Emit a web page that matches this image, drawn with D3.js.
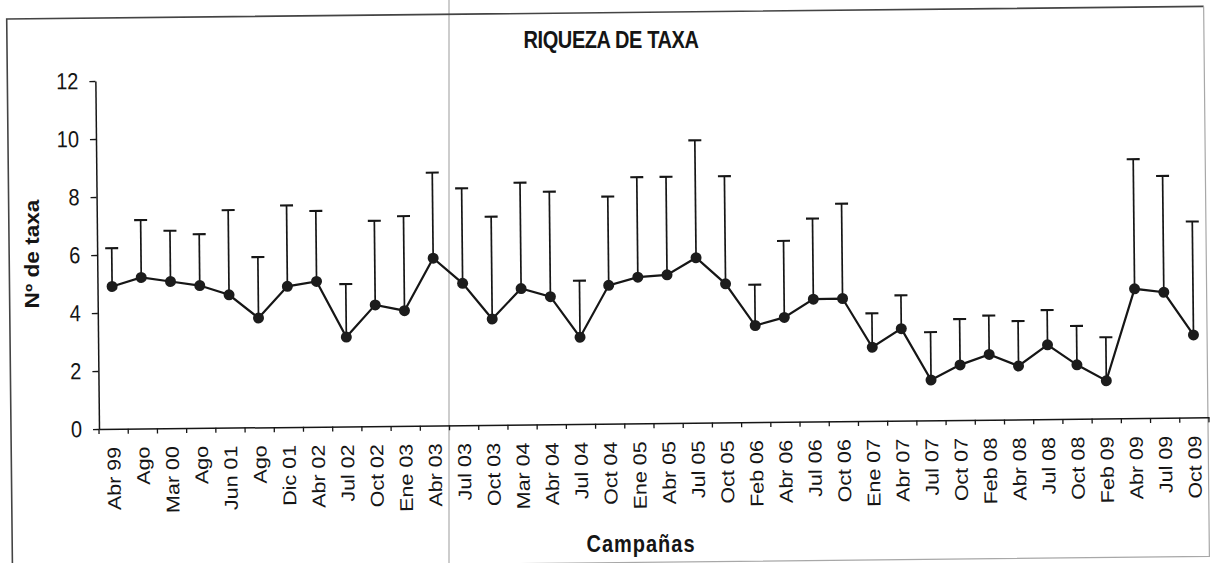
<!DOCTYPE html>
<html>
<head>
<meta charset="utf-8">
<script src="https://cdn.jsdelivr.net/npm/d3@7"></script>
<style>
  html, body { margin: 0; padding: 0; background: #fff; }
  svg { display: block; }
  text { font-family: "Liberation Sans", Arial, sans-serif; fill: #151515; }
</style>
</head>
<body>
<svg id="chart" width="1210" height="563"></svg>
<script>
// Sampling campaigns (x axis categories)
const categories = [
  "Abr 99", "Ago", "Mar 00", "Ago ", "Jun 01", "Ago  ", "Dic 01", "Abr 02",
  "Jul 02", "Oct 02", "Ene 03", "Abr 03", "Jul 03", "Oct 03", "Mar 04", "Abr 04",
  "Jul 04", "Oct 04", "Ene 05", "Abr 05", "Jul 05", "Oct 05", "Feb 06", "Abr 06",
  "Jul 06", "Oct 06", "Ene 07", "Abr 07", "Jul 07", "Oct 07", "Feb 08", "Abr 08",
  "Jul 08", "Oct 08", "Feb 09", "Abr 09", "Jul 09", "Oct 09"
];

// Mean number of taxa per campaign
const meanTaxa = [
  4.91, 5.21, 5.06, 4.91, 4.58, 3.77, 4.85, 5.01,
  3.08, 4.18, 3.97, 5.77, 4.89, 3.65, 4.69, 4.40,
  2.99, 4.77, 5.04, 5.11, 5.69, 4.78, 3.33, 3.60,
  4.22, 4.23, 2.54, 3.17, 1.39, 1.90, 2.25, 1.84,
  2.56, 1.86, 1.30, 4.46, 4.33, 2.85
];

// Standard deviation (upper error bar)
const sdTaxa = [
  1.32, 1.98, 1.75, 1.77, 2.92, 2.10, 2.79, 2.43,
  1.83, 2.90, 3.26, 2.95, 3.28, 3.53, 3.65, 3.62,
  1.95, 3.06, 3.45, 3.38, 4.05, 3.71, 1.41, 2.64,
  2.78, 3.27, 1.17, 1.15, 1.65, 1.58, 1.34, 1.55,
  1.20, 1.34, 1.50, 4.47, 4.01, 3.91
];

const yTicks = [0, 2, 4, 6, 8, 10, 12];

const chartTitle = "RIQUEZA DE TAXA";
const yTitle = "Nº de taxa";
const xTitle = "Campañas";

const data = categories.map((c, i) => ({ cat: c, mean: meanTaxa[i], sd: sdTaxa[i] }));

const svg = d3.select("#chart");
const ink = "#161616";
const stretch = 1.16; // glyphs are drawn slightly taller than wide

// crease line across the sheet
svg.append("line")
  .attr("x1", 449).attr("x2", 449).attr("y1", 0).attr("y2", 563)
  .attr("stroke", "#b8b8b8").attr("stroke-width", 1.4);

// whole chart sheet sits at a slight tilt
const page = svg.append("g").attr("transform", "rotate(-0.6, 99, 429)");

// chart area frame
page.append("path")
  .attr("d", "M11,568 L11,18 L1208,18")
  .attr("fill", "none").attr("stroke", "#444").attr("stroke-width", 1.6);
page.append("path")
  .attr("d", "M1208,18 L1208,568 L11,568")
  .attr("fill", "none").attr("stroke", "#a8a8a8").attr("stroke-width", 1.2);

const x = d3.scaleBand().domain(categories).range([99, 1209]).padding(0);
const y = d3.scaleLinear().domain([0, 12]).range([429, 81]);
const cx = d => x(d.cat) + x.bandwidth() / 2;

// y axis
const yAxis = page.append("g")
  .attr("transform", "translate(99,0)")
  .call(d3.axisLeft(y).tickValues(yTicks).tickSize(6).tickSizeOuter(0).tickPadding(11));
yAxis.select(".domain").attr("stroke", ink).attr("stroke-width", 1.5);
yAxis.selectAll(".tick line").attr("stroke", ink).attr("stroke-width", 1.3);
yAxis.selectAll(".tick text")
  .attr("font-size", 20).attr("fill", ink)
  .attr("font-family", "'Liberation Sans', Arial, sans-serif")
  .attr("transform", `scale(1,${stretch})`);

// x axis: labels at the category centres, tick marks at the boundaries
const xAxis = page.append("g")
  .attr("transform", "translate(0,429)")
  .call(d3.axisBottom(x).tickSize(0).tickSizeOuter(0).tickFormat(d => d.trim()));
xAxis.select(".domain").attr("stroke", ink).attr("stroke-width", 1.5);
xAxis.selectAll(".tick text")
  .attr("x", 0).attr("y", 0).attr("dy", "0.35em")
  .attr("text-anchor", "end")
  .attr("font-size", 18.5).attr("fill", ink)
  .attr("font-family", "'Liberation Sans', Arial, sans-serif")
  .attr("transform", `translate(0,18) scale(1,${stretch}) rotate(-90)`);

const boundaries = categories.map(c => x(c)).concat([x.range()[1]]);
xAxis.selectAll("line.boundary")
  .data(boundaries)
  .join("line")
  .attr("class", "boundary")
  .attr("x1", d => d).attr("x2", d => d)
  .attr("y1", 0).attr("y2", 5)
  .attr("stroke", ink).attr("stroke-width", 1.3);

// error bars (mean + sd)
const bars = page.append("g");
bars.selectAll("line.err")
  .data(data)
  .join("line")
  .attr("class", "err")
  .attr("x1", cx).attr("x2", cx)
  .attr("y1", d => y(d.mean)).attr("y2", d => y(d.mean + d.sd))
  .attr("stroke", ink).attr("stroke-width", 1.7);
bars.selectAll("line.cap")
  .data(data)
  .join("line")
  .attr("class", "cap")
  .attr("x1", d => cx(d) - 6.5).attr("x2", d => cx(d) + 6.5)
  .attr("y1", d => y(d.mean + d.sd)).attr("y2", d => y(d.mean + d.sd))
  .attr("stroke", ink).attr("stroke-width", 2.1);

// mean line
page.append("path")
  .datum(data)
  .attr("fill", "none")
  .attr("stroke", ink)
  .attr("stroke-width", 2.2)
  .attr("d", d3.line().x(cx).y(d => y(d.mean)));

// markers
page.append("g").selectAll("circle")
  .data(data)
  .join("circle")
  .attr("cx", cx).attr("cy", d => y(d.mean))
  .attr("r", 5.5)
  .attr("fill", "#1c1c1c");

// titles
svg.append("text")
  .attr("text-anchor", "middle")
  .attr("font-size", 20).attr("font-weight", "bold")
  .attr("letter-spacing", "-0.4")
  .attr("transform", `translate(611,48) scale(1,${stretch})`)
  .text(chartTitle);

svg.append("text")
  .attr("text-anchor", "middle")
  .attr("font-size", 19.5).attr("font-weight", "bold")
  .attr("transform", `translate(38.5,254) scale(1,${stretch}) rotate(-90)`)
  .text(yTitle);

svg.append("text")
  .attr("text-anchor", "middle")
  .attr("font-size", 20).attr("font-weight", "bold")
  .attr("letter-spacing", "1")
  .attr("transform", `translate(641,552) scale(1,${stretch})`)
  .text(xTitle);
</script>
</body>
</html>
